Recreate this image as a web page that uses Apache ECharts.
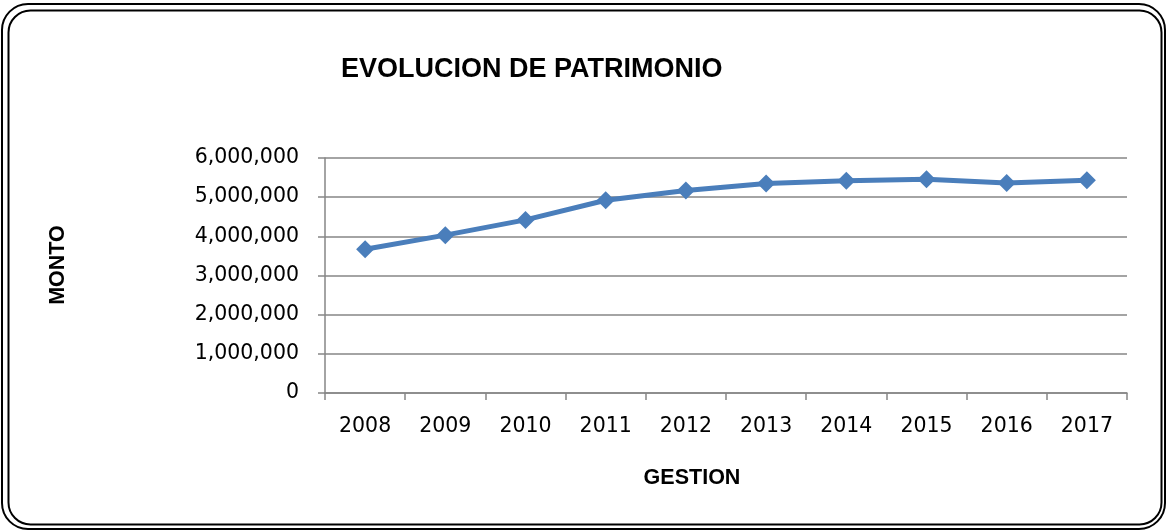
<!DOCTYPE html>
<html>
<head>
<meta charset="utf-8">
<script src="https://cdn.jsdelivr.net/npm/echarts@6/dist/echarts.min.js"></script>
<style>
  html, body { margin: 0; padding: 0; background: #fff; }
  #main { width: 1167px; height: 531px; }
</style>
</head>
<body>
<div id="main"></div>
<script>
const years = ['2008', '2009', '2010', '2011', '2012', '2013', '2014', '2015', '2016', '2017'];
const patrimonio = [3670000, 4030000, 4420000, 4920000, 5170000, 5350000, 5420000, 5460000, 5360000, 5430000];

const chartDom = document.getElementById('main');
const myChart = echarts.init(chartDom);
const labelFont = 'DejaVu Sans';
const boldFont = 'Liberation Sans';

myChart.setOption({
    animation: false,
    title: {
        text: 'EVOLUCION DE PATRIMONIO',
        left: 336,
        top: 51,
        textStyle: { fontFamily: boldFont, fontSize: 27, fontWeight: 'bold', color: '#000' }
    },
    graphic: [
        {
            type: 'rect',
            shape: { x: 2, y: 4, width: 1163, height: 525, r: 26 },
            style: { fill: 'none', stroke: '#000', lineWidth: 2 }
        },
        {
            type: 'rect',
            shape: { x: 8.5, y: 10.5, width: 1153, height: 514, r: 22 },
            style: { fill: 'none', stroke: '#000', lineWidth: 2 }
        }
    ],
    grid: { left: 325, right: 40, top: 158, bottom: 138 },
    xAxis: {
        type: 'category',
        data: years,
        boundaryGap: true,
        name: 'GESTION',
        nameLocation: 'middle',
        nameGap: 74,
        nameTextStyle: {
            fontFamily: boldFont, fontSize: 21.5, fontWeight: 'bold', color: '#000',
            padding: [0, 68, 0, 0]
        },
        axisLine: { lineStyle: { color: '#868686', width: 1.5 } },
        axisTick: { show: true, length: 7, alignWithLabel: false, lineStyle: { color: '#868686', width: 1.5 } },
        axisLabel: { fontFamily: labelFont, fontSize: 20.5, color: '#000', margin: 23 }
    },
    yAxis: {
        type: 'value',
        min: 0,
        max: 6000000,
        interval: 1000000,
        name: 'MONTO',
        nameLocation: 'middle',
        nameGap: 256,
        nameRotate: 90,
        nameTextStyle: {
            fontFamily: boldFont, fontSize: 21.5, fontWeight: 'bold', color: '#000',
            padding: [0, 0, 0, 21]
        },
        axisLine: { show: true, lineStyle: { color: '#868686', width: 1.5 } },
        axisTick: { show: true, length: 7, lineStyle: { color: '#868686', width: 1.5 } },
        splitLine: { lineStyle: { color: '#868686', width: 1.5 } },
        axisLabel: {
            fontFamily: labelFont, fontSize: 20.5, color: '#000', margin: 26,
            formatter: (v) => v.toLocaleString('en-US')
        }
    },
    series: [
        {
            type: 'line',
            data: patrimonio,
            symbol: 'diamond',
            symbolSize: 18,
            lineStyle: { color: '#4a7ebb', width: 5 },
            itemStyle: { color: '#4a7ebb' }
        }
    ]
});

window.addEventListener('resize', () => {
    myChart.resize();
});
</script>
</body>
</html>
